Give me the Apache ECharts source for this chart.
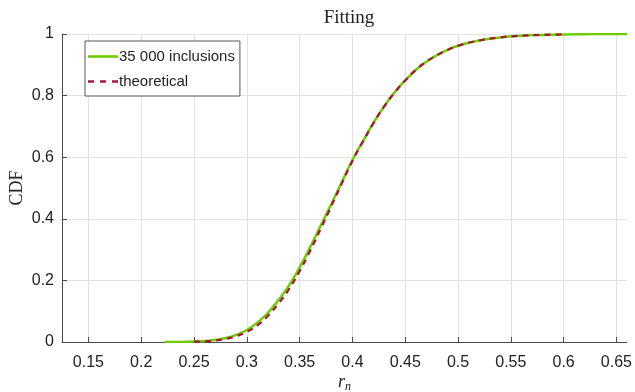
<!DOCTYPE html>
<html>
<head>
<meta charset="utf-8">
<script src="https://cdn.jsdelivr.net/npm/echarts@6/dist/echarts.min.js"></script>
<style>
  html, body { margin: 0; padding: 0; background: #fff; }
  #chart { width: 635px; height: 392px; }
</style>
</head>
<body>
<div id="chart"></div>
<script>
// Empirical CDF of r_n (35 000 inclusions)
const sampleR = [0.222, 0.24, 0.25, 0.26, 0.27, 0.28, 0.29, 0.30, 0.31, 0.32, 0.33, 0.34, 0.35, 0.36, 0.37, 0.38, 0.39, 0.40, 0.41, 0.42, 0.43, 0.44, 0.45, 0.46, 0.47, 0.48, 0.49, 0.50, 0.52, 0.54, 0.56, 0.58, 0.60, 0.63, 0.66];
const sampleCdf = [0, 0.0005, 0.0013, 0.003, 0.0066, 0.013, 0.023, 0.039, 0.063, 0.095, 0.136, 0.184, 0.242, 0.308, 0.378, 0.448, 0.520, 0.591, 0.652, 0.712, 0.765, 0.811, 0.849, 0.883, 0.910, 0.931, 0.948, 0.962, 0.979, 0.989, 0.9945, 0.997, 0.9987, 0.9997, 1.0];

// Theoretical CDF
const theoryR = [0.25, 0.26, 0.27, 0.28, 0.29, 0.30, 0.31, 0.32, 0.33, 0.34, 0.35, 0.36, 0.37, 0.38, 0.39, 0.40, 0.41, 0.42, 0.43, 0.44, 0.45, 0.46, 0.47, 0.48, 0.49, 0.50, 0.52, 0.54, 0.56, 0.58, 0.60];
const theoryCdf = [0.001, 0.002, 0.005, 0.010, 0.019, 0.033, 0.054, 0.085, 0.125, 0.172, 0.230, 0.296, 0.368, 0.441, 0.515, 0.588, 0.651, 0.711, 0.764, 0.810, 0.849, 0.883, 0.910, 0.931, 0.948, 0.962, 0.979, 0.989, 0.9945, 0.997, 0.9987];

// Axis ticks
const xTicks = [0.15, 0.2, 0.25, 0.3, 0.35, 0.4, 0.45, 0.5, 0.55, 0.6, 0.65];

const zip = (xs, ys) => xs.map((x, i) => [x, ys[i]]);

const green = '#6fcc00';
const crimson = '#a8163a';
const axisColor = '#4a4a4a';
const gridColor = '#e2e2e2';
const sans = 'Liberation Sans';
const serif = 'Liberation Serif';

// Legend swatches: a solid bar and a dashed bar
const solidIcon = 'path://M0,0H30V2.6H0Z';
const dashedIcon = 'path://M0,0H6V2.4H0Z M12,0H18V2.4H12Z M24,0H30V2.4H24Z';

const chart = echarts.init(document.getElementById('chart'));
chart.setOption({
  animation: false,
  backgroundColor: '#fff',
  title: {
    text: 'Fitting',
    left: 344, top: 4, textAlign: 'center',
    textStyle: { fontFamily: serif, fontWeight: 'normal', fontSize: 19, color: '#222' }
  },
  legend: {
    left: 85, top: 41,
    orient: 'vertical',
    itemWidth: 30, itemHeight: 3, itemGap: 10,
    padding: [8, 5, 7, 3],
    borderColor: '#555', borderWidth: 1,
    backgroundColor: '#fff',
    textStyle: { fontFamily: sans, fontSize: 15, color: '#222', padding: [0, 0, 0, -4] },
    data: [
      { name: '35 000 inclusions', icon: solidIcon },
      { name: 'theoretical', icon: dashedIcon }
    ]
  },
  grid: { left: 62, right: 8, top: 34, bottom: 50, outerBoundsMode: 'none' },
  xAxis: {
    type: 'value', min: 0.125, max: 0.66,
    name: '{r|r}{n|n}', nameLocation: 'middle', nameGap: 30, nameMoveOverlap: false,
    nameTextStyle: {
      rich: {
        r: { fontFamily: serif, fontStyle: 'italic', fontSize: 18, color: '#222' },
        n: { fontFamily: serif, fontStyle: 'italic', fontSize: 12, color: '#222', padding: [9, 0, 0, 0] }
      }
    },
    axisLine: { lineStyle: { color: axisColor, width: 1 } },
    axisTick: { inside: true, length: 5, customValues: xTicks, lineStyle: { color: axisColor } },
    axisLabel: { customValues: xTicks, fontFamily: sans, fontSize: 16, color: '#222', margin: 13,
      formatter: v => String(+v.toFixed(2)) },
    splitLine: { show: true, lineStyle: { color: gridColor, width: 1 } }
  },
  yAxis: {
    type: 'value', min: 0, max: 1, interval: 0.2,
    name: 'CDF', nameLocation: 'middle', nameGap: 36, nameMoveOverlap: false,
    nameTextStyle: { fontFamily: serif, fontSize: 18, color: '#222' },
    axisLine: { show: true, lineStyle: { color: axisColor, width: 1 } },
    axisTick: { show: true, inside: true, length: 5, lineStyle: { color: axisColor } },
    axisLabel: { fontFamily: sans, fontSize: 16, color: '#222', margin: 8,
      formatter: v => String(+v.toFixed(1)) },
    splitLine: { show: true, lineStyle: { color: gridColor, width: 1 } }
  },
  series: [
    {
      name: '35 000 inclusions', type: 'line', smooth: true, symbol: 'none',
      data: zip(sampleR, sampleCdf),
      lineStyle: { color: green, width: 2.5 },
      itemStyle: { color: green },
      z: 2
    },
    {
      name: 'theoretical', type: 'line', smooth: true, symbol: 'none',
      data: zip(theoryR, theoryCdf),
      lineStyle: { color: crimson, width: 2.2, type: [6, 5] },
      itemStyle: { color: crimson },
      z: 3
    }
  ]
});
</script>
</body>
</html>
